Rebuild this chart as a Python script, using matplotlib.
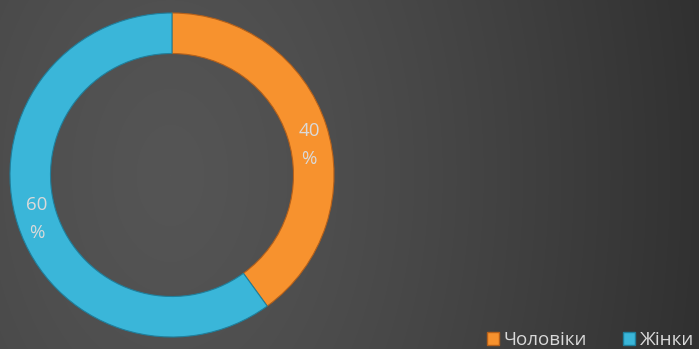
import numpy as np
import matplotlib
matplotlib.use("Agg")
import matplotlib.pyplot as plt
from matplotlib.patches import Patch

categories = ["Чоловіки", "Жінки"]
values = [40, 60]
label_texts = ["40\n%", "60\n%"]
colors = ["#F7922E", "#3AB6D9"]
edge_colors = ["#B5601A", "#1F7F9C"]

W, H = 699, 349
fig = plt.figure(figsize=(W / 100, H / 100), dpi=100)

# background gradient
bg = fig.add_axes([0, 0, 1, 1])
yy, xx = np.mgrid[0:H, 0:W]
d = np.sqrt(((xx - 170) / W) ** 2 + ((yy - 175) / (H * 3.0)) ** 2)
v = 0x55 - (0x55 - 0x30) * np.clip(d / 0.78, 0, 1) ** 1.3
img = np.dstack([v, v, v]) / 255.0
bg.imshow(img, extent=[0, W, H, 0], aspect="auto")
bg.set_xlim(0, W)
bg.set_ylim(H, 0)
bg.axis("off")

# donut
cx, cy, r = 172, 175, 162
ax = fig.add_axes([(cx - r) / W, (H - cy - r) / H, 2 * r / W, 2 * r / H])
ax.set_facecolor("none")
wedges, _ = ax.pie(values, colors=colors, startangle=90, counterclock=False,
                   radius=1.0,
                   wedgeprops=dict(width=0.25, edgecolor="none"))
for w, ec in zip(wedges, edge_colors):
    w.set_edgecolor(ec)
    w.set_linewidth(0.8)
ax.set_xlim(-1, 1)
ax.set_ylim(-1, 1)
ax.set_aspect("equal")
ax.axis("off")

# data labels
label_pos = [(309, 145), (37, 219)]
for (px, py), t in zip(label_pos, label_texts):
    fig.text(px / W, 1 - py / H, t, ha="center", va="center",
             color="#DADADA", fontsize=13.5, family="Open Sans",
             linespacing=1.7)

# legend
handles = [Patch(facecolor=c, edgecolor=ec) for c, ec in zip(colors, edge_colors)]
leg = fig.legend(handles, categories, loc="lower right",
                 bbox_to_anchor=(1.017, -0.048), ncol=2, frameon=False,
                 handlelength=0.65, handleheight=0.65, handletextpad=0.25,
                 columnspacing=1.9,
                 prop=dict(family="Open Sans", size=13.5))
for t in leg.get_texts():
    t.set_color("#D9D9D9")

fig.savefig("out.png", dpi=100)
